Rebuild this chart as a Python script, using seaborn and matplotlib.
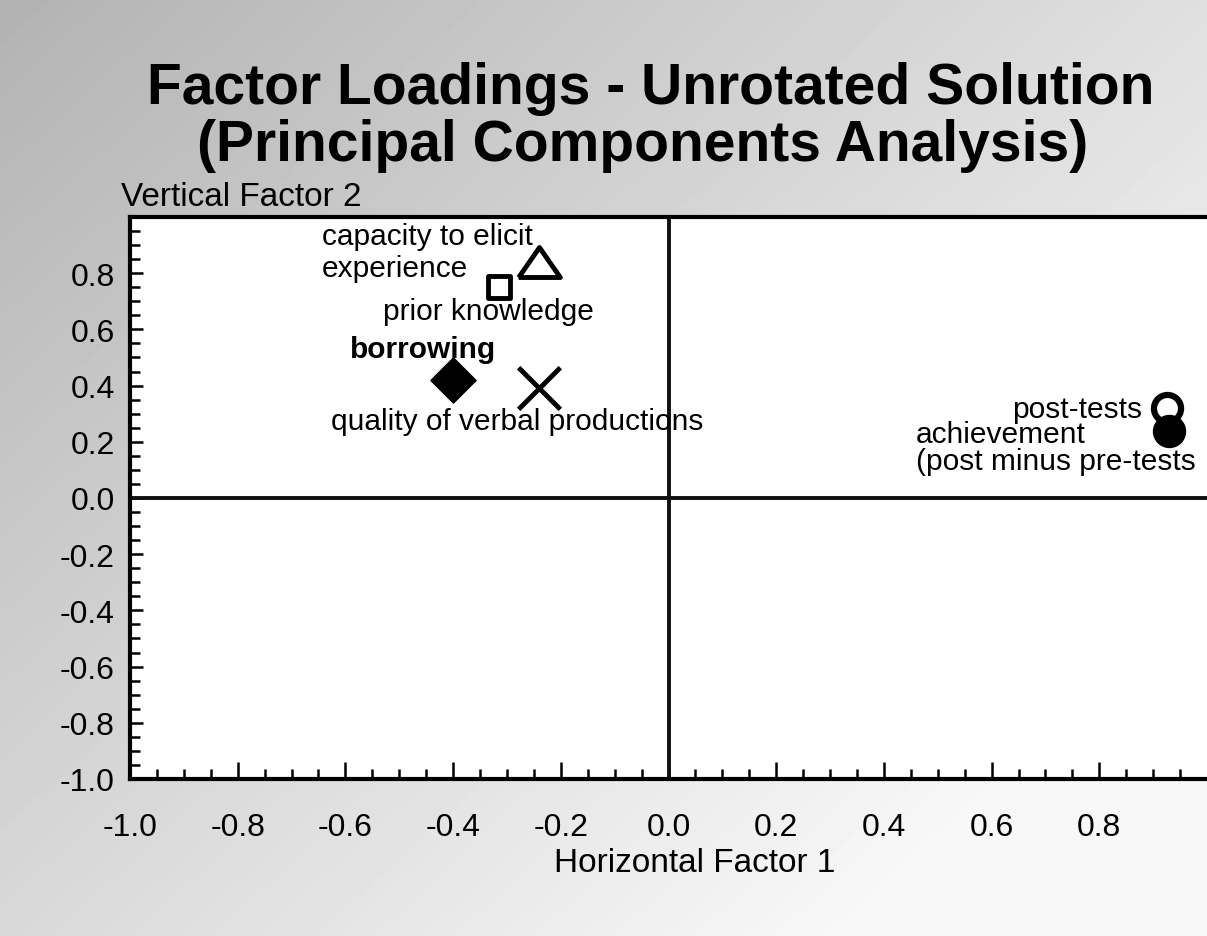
import numpy as np
import pandas as pd
import matplotlib
matplotlib.use("Agg")
import matplotlib.pyplot as plt
import seaborn as sns

# ---- data ----
variables = ["capacity to elicit experience", "prior knowledge", "borrowing",
             "quality of verbal productions", "post-tests",
             "achievement (post minus pre-tests"]
factor1 = [-0.24, -0.315, -0.40, -0.24, 0.925, 0.93]
factor2 = [0.84, 0.75, 0.42, 0.39, 0.32, 0.24]
tick_values = [-1.0, -0.8, -0.6, -0.4, -0.2, 0.0, 0.2, 0.4, 0.6, 0.8]
tick_labels = ["-1.0", "-0.8", "-0.6", "-0.4", "-0.2", "0.0", "0.2", "0.4", "0.6", "0.8"]
title_lines = ["Factor Loadings - Unrotated Solution", "(Principal Components Analysis)"]
x_label = "Horizontal Factor 1"
y_label = "Vertical Factor 2"

df = pd.DataFrame({"variable": variables, "f1": factor1, "f2": factor2})

sns.set_theme(style="white")
plt.rcParams["font.family"] = ["Liberation Sans", "DejaVu Sans"]
plt.rcParams["text.color"] = "black"
plt.rcParams["xtick.color"] = "black"
plt.rcParams["ytick.color"] = "black"

W, H = 1207, 937
fig = plt.figure(figsize=(W / 100, H / 100), dpi=100)

# background gradient (scanned grey look)
bg = fig.add_axes([0, 0, 1, 1], zorder=-10)
xx, yy = np.meshgrid(np.linspace(0, 1, 300), np.linspace(0, 1, 240))
val = 0.70 + 0.27 * np.clip(0.65 * xx + 0.55 * yy, 0, 1)
bg.imshow(val, cmap="gray", vmin=0, vmax=1, aspect="auto", extent=[0, 1, 0, 1], origin="upper")
bg.axis("off")

ax = fig.add_axes([130 / W, (H - 780) / H, (W - 130) / W, 562 / H])
ax.set_facecolor("white")

# marker styles per variable
tri = [(-1, -0.72), (1, -0.72), (0, 0.72), (-1, -0.72)]
styles = {
    variables[0]: dict(marker=tri, s=30 ** 2, facecolor="white", edgecolor="black", linewidth=3.5),
    variables[1]: dict(marker="s", s=16.5 ** 2, facecolor="white", edgecolor="black", linewidth=3.5),
    variables[2]: dict(marker="D", s=23 ** 2, facecolor="black", edgecolor="black", linewidth=1),
    variables[3]: dict(marker="x", s=30 ** 2, color="black", linewidth=3.5),
    variables[4]: dict(marker="o", s=19.5 ** 2, facecolor="white", edgecolor="black", linewidth=4.5),
    variables[5]: dict(marker="o", s=23 ** 2, facecolor="black", edgecolor="black", linewidth=1),
}
for v in variables:
    sub = df[df["variable"] == v]
    sns.scatterplot(data=sub, x="f1", y="f2", ax=ax, legend=False, zorder=5, **styles[v])

# zero lines
ax.axhline(0, color="#111111", lw=2.8, zorder=2)
ax.axvline(0, color="#111111", lw=2.8, zorder=2)

ax.set_xlim(-1, 1)
ax.set_ylim(-1, 1)
ax.set_xticks(tick_values)
ax.set_xticklabels(tick_labels)
ax.set_yticks(tick_values)
ax.set_yticklabels(tick_labels)
ax.set_xticks(np.arange(-0.95, 1.0, 0.05), minor=True)
ax.set_yticks(np.arange(-0.95, 1.0, 0.05), minor=True)
ax.tick_params(axis="x", which="major", direction="in", length=12, width=1.8, color="black",
               labelsize=23, pad=24, labelcolor="black", bottom=True)
ax.tick_params(axis="x", which="minor", direction="in", length=7.5, width=1.8, color="black", bottom=True)
ax.tick_params(axis="y", which="major", direction="in", length=9.5, width=1.8, color="black",
               labelsize=23, pad=11, labelcolor="black", left=True)
ax.tick_params(axis="y", which="minor", direction="in", length=7, width=1.8, color="black", left=True)
ax.set_xlabel("")
ax.set_ylabel("")
for side in ["left", "bottom", "top"]:
    ax.spines[side].set_visible(True)
    ax.spines[side].set_color("black")
    ax.spines[side].set_linewidth(3)
ax.spines["right"].set_visible(False)

# point labels (layout positions in data coords)
fs = 21.5
ax.text(-0.643, 0.904, "capacity to elicit", fontsize=fs, ha="left", va="baseline", zorder=6)
ax.text(-0.643, 0.79, "experience", fontsize=fs, ha="left", va="baseline", zorder=6)
ax.text(-0.530, 0.637, "prior knowledge", fontsize=fs, ha="left", va="baseline", zorder=6)
ax.text(-0.591, 0.502, "borrowing", fontsize=fs, fontweight="bold", ha="left", va="baseline", zorder=6)
ax.text(-0.627, 0.246, "quality of verbal productions", fontsize=fs, ha="left", va="baseline", zorder=6)
ax.text(0.88, 0.288, "post-tests", fontsize=fs, ha="right", va="baseline", zorder=6)
ax.text(0.46, 0.20, "achievement", fontsize=fs, ha="left", va="baseline", zorder=6)
ax.text(0.46, 0.103, "(post minus pre-tests", fontsize=fs, ha="left", va="baseline", zorder=6)

# titles and axis labels
fig.text(651 / W, 1 - 104 / H, title_lines[0], fontsize=41, fontweight="bold", ha="center", va="baseline")
fig.text(643 / W, 1 - 161 / H, title_lines[1], fontsize=41, fontweight="bold", ha="center", va="baseline")
fig.text(121 / W, 1 - 206 / H, y_label, fontsize=24, ha="left", va="baseline")
fig.text(695 / W, 1 - 872 / H, x_label, fontsize=24, ha="center", va="baseline")

fig.savefig("out.png", dpi=100)
